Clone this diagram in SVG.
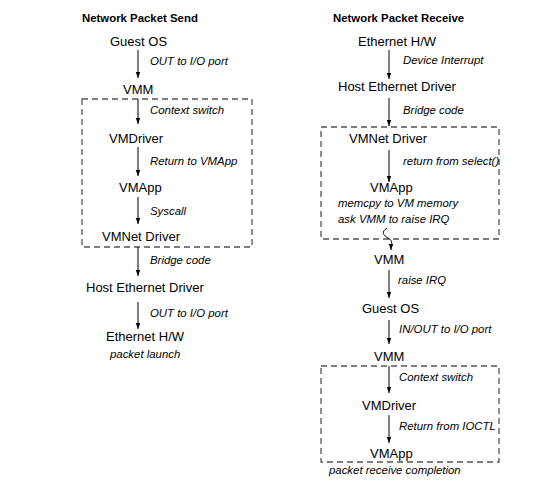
<svg xmlns="http://www.w3.org/2000/svg" width="544" height="499" viewBox="0 0 544 499">
<defs>
<marker id="ah" markerWidth="8" markerHeight="8" refX="6" refY="2.25" orient="auto" markerUnits="userSpaceOnUse">
<path d="M0,0 L6,2.25 L0,4.5 Z" fill="#000"/>
</marker>
<style>
.title{font-family:"Liberation Sans",Arial,sans-serif;font-size:11.4px;font-weight:bold;fill:#000}
.node{font-family:"Liberation Sans",Arial,sans-serif;font-size:13px;fill:#000}
.lbl{font-family:"Liberation Sans",Arial,sans-serif;font-size:11.4px;font-style:italic;fill:#000}
.arr{stroke:#000;stroke-width:1;fill:none;marker-end:url(#ah)}
.box{stroke:#555;stroke-width:1.3;fill:none;stroke-dasharray:6,4}
</style>
</defs>
<rect width="544" height="499" fill="#fff"/>
<text class="title" x="82" y="22">Network Packet Send</text>
<text class="title" x="333" y="22">Network Packet Receive</text>

<g id="boxes">
<rect id="send-box" class="box" x="82" y="99" width="170" height="148"/>
<rect id="recv-box1" class="box" x="321" y="127" width="178" height="112"/>
<rect id="recv-box2" class="box" x="321" y="366" width="178" height="96"/>
</g>

<g id="connectors">
<line class="arr" x1="138" y1="50" x2="138" y2="78"/>
<line class="arr" x1="138" y1="99" x2="138" y2="124"/>
<line class="arr" x1="138" y1="147" x2="138" y2="176"/>
<line class="arr" x1="138" y1="197" x2="138" y2="224"/>
<line class="arr" x1="138" y1="247" x2="138" y2="276"/>
<line class="arr" x1="138" y1="302" x2="138" y2="329"/>

<line class="arr" x1="389" y1="50" x2="389" y2="79"/>
<line class="arr" x1="389" y1="98" x2="389" y2="126"/>
<line class="arr" x1="389" y1="150" x2="389" y2="182"/>
<path class="arr" d="M387,228 C381,232 383,235 388,238 C394,241 391,245 391,250"/>
<line class="arr" x1="389" y1="270" x2="389" y2="298"/>
<line class="arr" x1="389" y1="320" x2="389" y2="344"/>
<line class="arr" x1="389" y1="366" x2="389" y2="393"/>
<line class="arr" x1="389" y1="415" x2="389" y2="443"/>
</g>

<g id="labels">
<text class="lbl" x="150" y="65">OUT to I/O port</text>
<text class="lbl" x="150" y="114">Context switch</text>
<text class="lbl" x="150" y="165">Return to VMApp</text>
<text class="lbl" x="150" y="215">Syscall</text>
<text class="lbl" x="150" y="264">Bridge code</text>
<text class="lbl" x="150" y="317">OUT to I/O port</text>
<text class="lbl" x="110" y="358">packet launch</text>

<text class="lbl" x="403" y="64">Device Interrupt</text>
<text class="lbl" x="403" y="114">Bridge code</text>
<text class="lbl" x="403" y="165">return from select()</text>
<text class="lbl" x="338" y="207">memcpy to VM memory</text>
<text class="lbl" x="338" y="223">ask VMM to raise IRQ</text>
<text class="lbl" x="398" y="284">raise IRQ</text>
<text class="lbl" x="399" y="333">IN/OUT to I/O port</text>
<text class="lbl" x="399" y="381">Context switch</text>
<text class="lbl" x="399" y="430">Return from IOCTL</text>
<text class="lbl" x="329" y="474">packet receive completion</text>
</g>

<g id="s-guestos"><text class="node" x="110" y="46">Guest OS</text></g>
<g id="s-vmm"><text class="node" x="123" y="94">VMM</text></g>
<g id="s-vmdriver"><text class="node" x="109" y="143">VMDriver</text></g>
<g id="s-vmapp"><text class="node" x="119" y="192">VMApp</text></g>
<g id="s-vmnet"><text class="node" x="102" y="241">VMNet Driver</text></g>
<g id="s-hostdrv"><text class="node" x="86" y="292">Host Ethernet Driver</text></g>
<g id="s-ethhw"><text class="node" x="106" y="341">Ethernet H/W</text></g>

<g id="r-ethhw"><text class="node" x="358" y="46">Ethernet H/W</text></g>
<g id="r-hostdrv"><text class="node" x="338" y="91">Host Ethernet Driver</text></g>
<g id="r-vmnet"><text class="node" x="349" y="143">VMNet Driver</text></g>
<g id="r-vmapp"><text class="node" x="370" y="192">VMApp</text></g>
<g id="r-vmm"><text class="node" x="374" y="264">VMM</text></g>
<g id="r-guestos"><text class="node" x="362" y="313">Guest OS</text></g>
<g id="r-vmm2"><text class="node" x="374" y="361">VMM</text></g>
<g id="r-vmdriver"><text class="node" x="362" y="410">VMDriver</text></g>
<g id="r-vmapp2"><text class="node" x="370" y="458">VMApp</text></g>
</svg>
